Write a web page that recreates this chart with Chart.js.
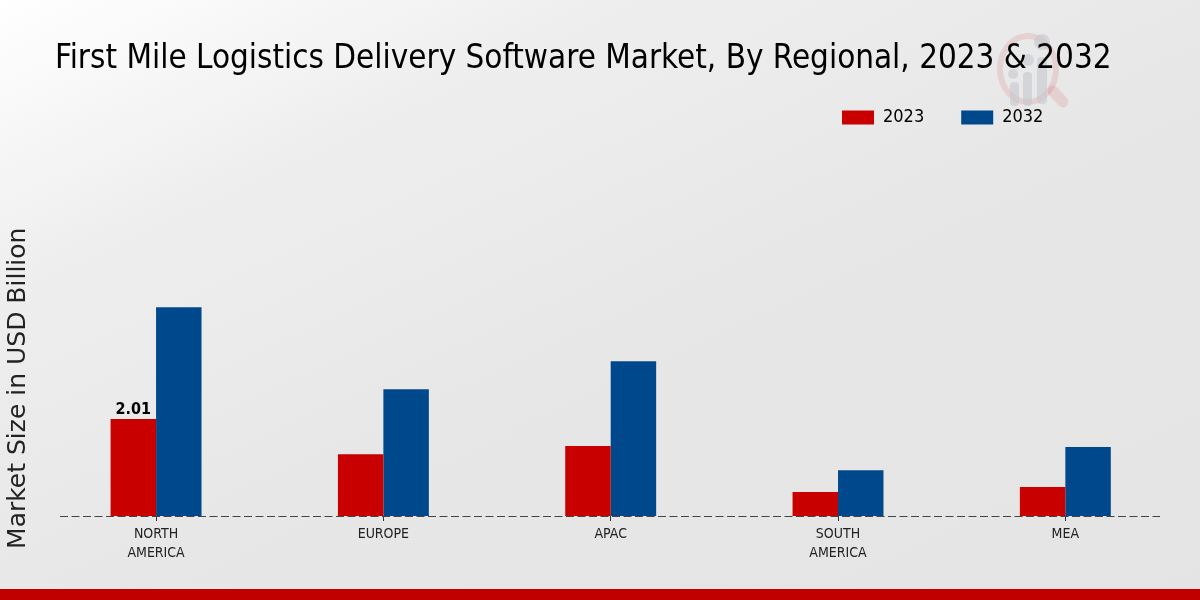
<!DOCTYPE html>
<html>
<head>
<meta charset="utf-8">
<style>
  html, body { margin: 0; padding: 0; }
  body { width: 1200px; height: 600px; position: relative; overflow: hidden;
         background: linear-gradient(155deg, #ffffff 0%, #eeeeee 25%, #e7e7e7 55%, #e4e4e4 100%); }
  #logo { position: absolute; left: 0; top: 0; }
  #band { position: absolute; left: 0; top: 589px; width: 1200px; height: 11px; background: #c00000; }
  #wrap { position: absolute; left: 0; top: 0; width: 1200px; height: 600px; }
</style>
<script src="https://cdn.jsdelivr.net/npm/chart.js@4"></script>
</head>
<body>
<svg id="logo" width="1200" height="200">
  <ellipse cx="1028" cy="69" rx="28" ry="33" fill="none" stroke="#c00000" stroke-opacity="0.1" stroke-width="6"/>
  <line x1="1053" y1="91" x2="1063" y2="102" stroke="#c00000" stroke-opacity="0.1" stroke-width="11" stroke-linecap="round"/>
  <g fill="#c4c8cf" fill-opacity="0.6">
    <rect x="1010" y="82" width="9" height="24" rx="4"/>
    <rect x="1023" y="72" width="9" height="34" rx="4"/>
    <rect x="1037" y="57" width="10" height="47" rx="4"/>
    <circle cx="1013" cy="74" r="5"/>
    <circle cx="1028" cy="60" r="6"/>
    <circle cx="1042" cy="42" r="8"/>
  </g>
</svg>
<div id="band"></div>
<div id="wrap"><canvas id="region-chart" width="1200" height="600"></canvas></div>
<script>
const categories = [["NORTH", "AMERICA"], "EUROPE", "APAC", ["SOUTH", "AMERICA"], "MEA"];
const values2023 = [2.01, 1.28, 1.45, 0.50, 0.60];
const values2032 = [4.33, 2.63, 3.21, 0.95, 1.43];
const labels2023 = ["2.01", "", "", "", ""];

const titleText = "First Mile Logistics Delivery Software Market, By Regional, 2023 & 2032";
const yTitle = "Market Size in USD Billion";
const condensed = "'DejaVu Sans Condensed', 'DejaVu Sans'";

// moves title and legend into place, draws the dashed base line and the value label
const extras = {
  id: "extras",
  afterLayout(chart) {
    const lg = chart.legend;
    const w = lg.width;
    lg.left = 805;
    lg.right = 805 + w;
    lg.top = 104 - lg.height / 2;
    lg.bottom = lg.top + lg.height;
    const tt = chart.titleBlock;
    const tw = tt.width;
    tt.left = 55;
    tt.right = 55 + tw;
  },
  afterDatasetsDraw(chart) {
    const ctx = chart.ctx;
    const y0 = Math.round(chart.scales.y.getPixelForValue(0)) + 0.5;
    ctx.save();
    ctx.strokeStyle = "#444";
    ctx.lineWidth = 1;
    ctx.setLineDash([8, 3.5]);
    ctx.beginPath();
    ctx.moveTo(60, y0);
    ctx.lineTo(1160, y0);
    ctx.stroke();
    ctx.setLineDash([]);
    ctx.fillStyle = "#000";
    ctx.font = "bold 16px " + condensed;
    ctx.textAlign = "center";
    ctx.textBaseline = "bottom";
    chart.getDatasetMeta(0).data.forEach((bar, i) => {
      if (labels2023[i]) ctx.fillText(labels2023[i], bar.x, bar.y - 1);
    });
    ctx.restore();
  }
};

const ctx = document.getElementById("region-chart").getContext("2d");
new Chart(ctx, {
  type: "bar",
  data: {
    labels: categories,
    datasets: [
      { label: "2023", data: values2023, backgroundColor: "#c80000", barPercentage: 1, categoryPercentage: 0.4 },
      { label: "2032", data: values2032, backgroundColor: "#00488c", barPercentage: 1, categoryPercentage: 0.4 }
    ]
  },
  plugins: [extras],
  options: {
    responsive: false,
    animation: false,
    layout: { padding: { left: 0, right: 21, top: 0, bottom: 0 } },
    plugins: {
      title: {
        display: true,
        text: titleText,
        align: "start",
        color: "#000",
        font: { family: condensed, size: 32.9, weight: "normal" },
        padding: { top: 40, bottom: 116 }
      },
      legend: {
        display: true,
        position: "top",
        align: "start",
        labels: {
          color: "#000",
          boxWidth: 32,
          boxHeight: 14,
          padding: 37,
          font: { family: condensed, size: 18 }
        }
      },
      tooltip: { enabled: false }
    },
    scales: {
      x: {
        afterFit(scale) { scale.height = 84; },
        grid: { drawOnChartArea: false, drawTicks: true, tickLength: 5, color: "#333", offset: false },
        border: { display: false },
        ticks: {
          color: "#222",
          maxRotation: 0,
          autoSkip: false,
          padding: 4,
          font: { family: condensed, size: 14, lineHeight: 1.35 }
        }
      },
      y: {
        min: 0,
        max: 5.3,
        afterFit(scale) { scale.width = 42.4; },
        grid: { display: false },
        border: { display: false },
        ticks: { display: false },
        title: {
          display: true,
          text: yTitle,
          color: "#222",
          padding: { top: 3, bottom: 5 },
          font: { family: "'DejaVu Sans'", size: 25 }
        }
      }
    }
  }
});
</script>
</body>
</html>
